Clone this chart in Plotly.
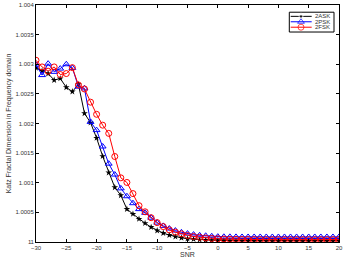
import plotly.graph_objects as go

snr = list(range(-30, 21))

ask_2 = [1.002938, 1.002888, 1.002843, 1.002733, 1.002760, 1.002610, 1.002538, 1.002660,
         1.002172, 1.002013, 1.001755, 1.001447, 1.001172, 1.000922, 1.000788, 1.000555,
         1.000472, 1.000388, 1.000317, 1.000250, 1.000193, 1.000150, 1.000117, 1.000090,
         1.000070, 1.000055, 1.000047, 1.000038, 1.000033, 1.000030,
         1.000027, 1.000027, 1.000026, 1.000026, 1.000026, 1.000025, 1.000025, 1.000025,
         1.000025, 1.000025, 1.000025, 1.000025, 1.000025, 1.000025, 1.000025, 1.000025,
         1.000025, 1.000025, 1.000025, 1.000025, 1.000025]

psk_2 = [1.002993, 1.002817, 1.003010, 1.002872, 1.002927, 1.003000, 1.002938, 1.002622,
         1.002593, 1.002027, 1.001888, 1.001612, 1.001322, 1.001138, 1.000905, 1.000772,
         1.000655, 1.000555, 1.000493, 1.000410, 1.000327, 1.000272, 1.000227, 1.000193,
         1.000163, 1.000142, 1.000125, 1.000113, 1.000105, 1.000097,
         1.000090, 1.000088, 1.000087, 1.000086, 1.000085, 1.000085, 1.000085, 1.000085,
         1.000085, 1.000085, 1.000085, 1.000085, 1.000085, 1.000085, 1.000085, 1.000085,
         1.000085, 1.000085, 1.000085, 1.000085, 1.000085]

fsk_2 = [1.003067, 1.002955, 1.002883, 1.002955, 1.002827, 1.002843, 1.002943, 1.002650,
         1.002583, 1.002360, 1.002155, 1.001972, 1.001833, 1.001443, 1.001083, 1.001005,
         1.000817, 1.000613, 1.000510, 1.000410, 1.000327, 1.000260, 1.000205, 1.000167,
         1.000138, 1.000110, 1.000093, 1.000080, 1.000068, 1.000060,
         1.000055, 1.000050, 1.000047, 1.000045, 1.000043, 1.000042, 1.000041, 1.000040,
         1.000040, 1.000040, 1.000040, 1.000040, 1.000040, 1.000040, 1.000040, 1.000040,
         1.000040, 1.000040, 1.000040, 1.000040, 1.000040]

series_names = ["2ASK", "2PSK", "2FSK"]
series_colors = ["black", "blue", "red"]
series_symbols = ["star", "triangle-up-open", "circle-open"]
series_sizes = [5, 6, 6]

x_ticks = [-30, -25, -20, -15, -10, -5, 0, 5, 10, 15, 20]
y_ticks = [1.0, 1.0005, 1.001, 1.0015, 1.002, 1.0025, 1.003, 1.0035, 1.004]
y_tick_text = ["1", "1.0005", "1.001", "1.0015", "1.002", "1.0025", "1.003", "1.0035", "1.004"]

FONT = "Liberation Sans"
TXT = "#333"

fig = go.Figure()
for name, ys, col, sym, sz in zip(series_names, [ask_2, psk_2, fsk_2],
                                  series_colors, series_symbols, series_sizes):
    fig.add_trace(go.Scatter(x=snr, y=ys, name=name, mode="lines+markers",
                             line=dict(color=col, width=1),
                             marker=dict(symbol=sym, size=sz, color=col),
                             showlegend=False))

# compact legend (MATLAB-like) drawn on an overlay axis spanning the plot area
leg_x0, leg_x1 = 0.836, 0.9835
leg_y0, leg_y1 = 0.886, 0.9696
row_y = [0.9521, 0.9292, 0.9063]
line_x = [0.8406, 0.8746, 0.9099]
text_x = 0.914

fig.add_shape(type="rect", xref="paper", yref="paper", x0=leg_x0, x1=leg_x1,
              y0=leg_y0, y1=leg_y1, line=dict(color="black", width=1), fillcolor="white",
              layer="below")
for name, col, sym, sz, ry in zip(series_names, series_colors, series_symbols,
                                  series_sizes, row_y):
    fig.add_trace(go.Scatter(x=line_x, y=[ry, ry, ry], xaxis="x2", yaxis="y2",
                             mode="lines+markers", showlegend=False, hoverinfo="skip",
                             line=dict(color=col, width=1),
                             marker=dict(symbol=sym, size=[0, sz, 0], color=col)))
    fig.add_annotation(x=text_x, y=ry, xref="paper", yref="paper", text=name,
                       showarrow=False, xanchor="left", yanchor="middle",
                       font=dict(family=FONT, size=6, color=TXT))

# bottom y tick label (plotly suppresses it at the axis corner)
fig.add_annotation(x=0, xref="paper", y=y_ticks[0], yref="y", text=y_tick_text[0],
                   showarrow=False, xanchor="right", yanchor="middle", xshift=-2,
                   font=dict(family=FONT, size=6, color=TXT))

axis_common = dict(showline=True, linecolor="black", linewidth=1, mirror="ticks",
                   ticks="inside", ticklen=3, tickcolor="black", showgrid=False,
                   zeroline=False, ticklabeloverflow="allow",
                   tickfont=dict(family=FONT, size=6, color=TXT))

fig.update_layout(
    xaxis=dict(range=[-30, 20], tickvals=x_ticks,
               title=dict(text="SNR", font=dict(family=FONT, size=7, color=TXT), standoff=0),
               **axis_common),
    yaxis=dict(range=[1.0 - 1e-9, 1.004 + 1e-9], tickvals=y_ticks, ticktext=y_tick_text,
               title=dict(text="Katz Fractal Dimension in Frequency domain",
                          font=dict(family=FONT, size=7, color=TXT), standoff=2),
               **axis_common),
    xaxis2=dict(overlaying="x", range=[0, 1], domain=[0, 1], visible=False),
    yaxis2=dict(overlaying="y", range=[0, 1], domain=[0, 1], visible=False),
    width=345, height=258,
    margin=dict(l=36, r=6, t=2, b=16),
    paper_bgcolor="white", plot_bgcolor="white",
    showlegend=False,
)

fig.write_html("out.html")
